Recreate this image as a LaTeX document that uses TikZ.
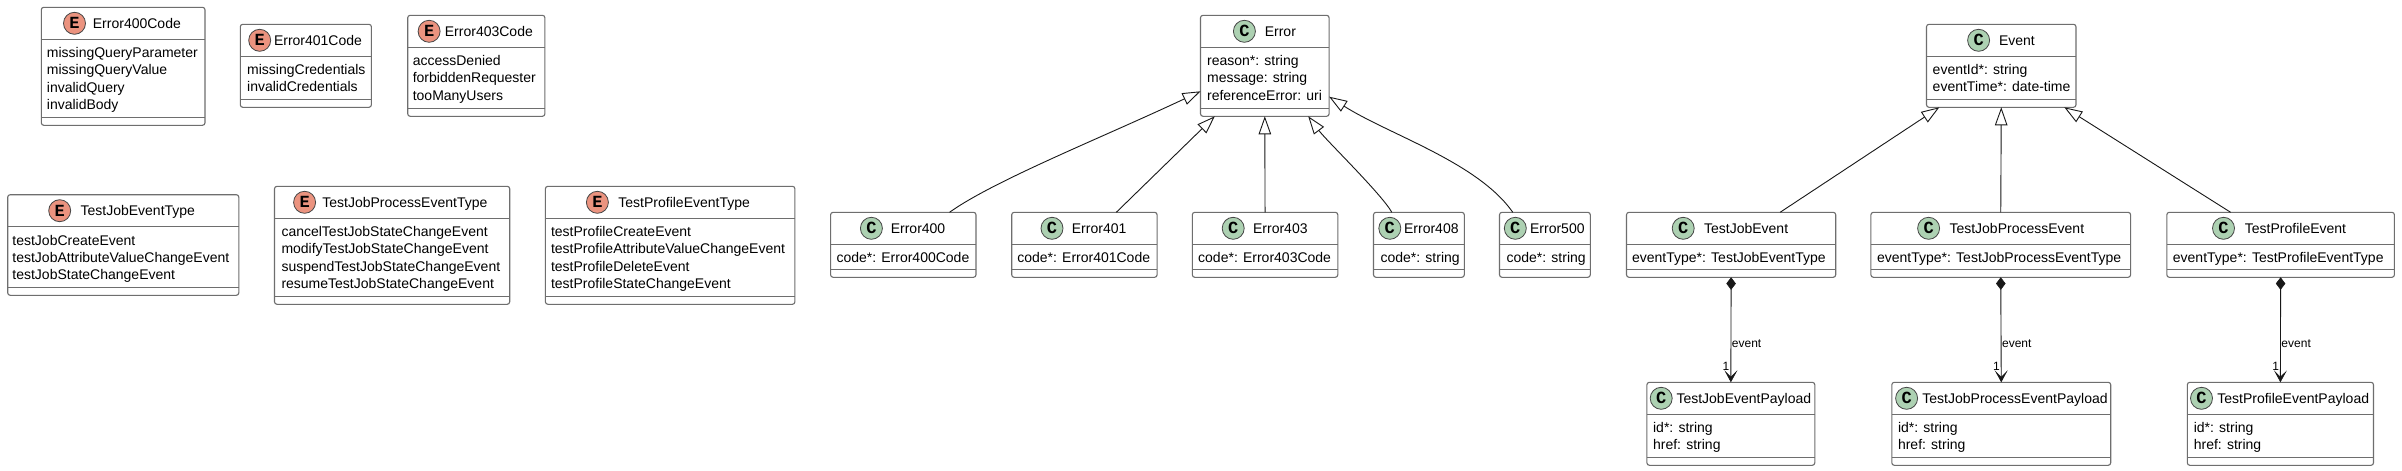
\documentclass[tikz,border=0pt]{standalone}
\usepackage{fontspec}
\setmainfont{Liberation Sans}
\newfontfamily\spotfont{Liberation Mono}
\usetikzlibrary{arrows.meta}
\definecolor{boxline}{HTML}{6E6E6E}
\definecolor{edgeline}{HTML}{181818}
\definecolor{spotC}{HTML}{ADD1B2}
\definecolor{spotE}{HTML}{EB937F}
\tikzset{
  x=1pt,y=-1pt,
  classbox/.style={draw=boxline,fill=white,line width=1.1pt,rounded corners=2.5pt,inner sep=0pt,outer sep=0pt},
  sepline/.style={draw=boxline,line width=1.1pt},
  txt/.style={inner sep=0pt,outer sep=0pt,anchor=base west,font=\fontsize{14}{17}\selectfont,text=black},
  spot/.style={circle,draw=edgeline!80,line width=0.8pt,minimum size=22pt,inner sep=0pt,font=\spotfont\bfseries\fontsize{17}{17}\selectfont},
  edge/.style={draw=edgeline,line width=0.9pt},
  inherit/.style={edge,-{Triangle[open,length=18pt,width=12.5pt,line width=0.9pt]}},
  compose/.style={edge,{Diamond[fill=edgeline,length=12.5pt,width=9.5pt,line width=0.5pt]}-{Stealth[length=12pt,width=13pt,inset=6.5pt,line width=0.6pt]}},
  edgelab/.style={inner sep=0pt,outer sep=0pt,font=\fontsize{12}{14}\selectfont,text=black},
}
% id, x1, y1, x2, y2, spot colour, letter, spot x, title x, title, body x, rows
\newcommand{\classbox}[9]{%
  \def\cbid{#1}\def\cbxa{#2}\def\cbya{#3}\def\cbxb{#4}\def\cbyb{#5}\def\cbcol{#6}\def\cblet{#7}\def\cbsx{#8}\def\cbtx{#9}%
  \classboxrest}
\newcommand{\classboxrest}[3]{%
  \pgfmathsetmacro{\cbw}{\cbxb-\cbxa}\pgfmathsetmacro{\cbh}{\cbyb-\cbya}%
  \pgfmathsetmacro{\cbsa}{\cbya+32}\pgfmathsetmacro{\cbsb}{\cbyb-8}%
  \node[classbox,anchor=north west,minimum width=\cbw pt,minimum height=\cbh pt] (\cbid) at (\cbxa,\cbya) {};
  \draw[sepline] (\cbxa,\cbsa) -- (\cbxb,\cbsa);
  \draw[sepline] (\cbxa,\cbsb) -- (\cbxb,\cbsb);
  \pgfmathsetmacro{\cbcy}{\cbya+16}\pgfmathsetmacro{\cbty}{\cbya+21.2}%
  \node[spot,fill=\cbcol] (\cbid-spot) at (\cbsx,\cbcy) {\cblet};
  \node[txt] (\cbid-title) at (\cbtx,\cbty) {#1};
  \foreach \r [count=\i] in {#3} {
    \pgfmathsetmacro{\cbry}{\cbsa+18.3+(\i-1)*17.33}
    \node[txt] (\cbid-row\i) at (#2,\cbry) {\r};
  }
}
\begin{document}
\begin{tikzpicture}
\useasboundingbox (0,0) rectangle (2402,471);
\fill[white] (0,0) rectangle (2402,471);
% enums
\classbox{e400}{41.3}{7.3}{205}{125.3}{spotE}{E}{74.5}{92.9}{Error400Code}{46.9}{missingQueryParameter,missingQueryValue,invalidQuery,invalidBody}
\classbox{e401}{240.3}{24.3}{371.4}{107.3}{spotE}{E}{259.7}{274}{Error401Code}{247.2}{missingCredentials,invalidCredentials}
\classbox{e403}{407.7}{15.3}{544.9}{116.3}{spotE}{E}{429.1}{444.9}{Error403Code}{412.8}{accessDenied,forbiddenRequester,tooManyUsers}
\classbox{tjet}{7.7}{194.7}{238.8}{295.3}{spotE}{E}{59.7}{80.6}{TestJobEventType}{12.4}{testJobCreateEvent,testJobAttributeValueChangeEvent,testJobStateChangeEvent}
\classbox{tjpet}{274.5}{186.3}{509.7}{304.3}{spotE}{E}{304.6}{322.4}{TestJobProcessEventType}{281.5}{cancelTestJobStateChangeEvent,modifyTestJobStateChangeEvent,suspendTestJobStateChangeEvent,resumeTestJobStateChangeEvent}
\classbox{tpet}{545.4}{186.3}{794.9}{304.3}{spotE}{E}{597.4}{618.4}{TestProfileEventType}{551}{testProfileCreateEvent,testProfileAttributeValueChangeEvent,testProfileDeleteEvent,testProfileStateChangeEvent}
% errors
\classbox{err}{1200.5}{15.3}{1329.1}{116.3}{spotC}{C}{1244.4}{1264.8}{Error}{1207.1}{reason*: string,message: string,referenceError: uri}
\classbox{err400}{830.6}{212.3}{976}{277.3}{spotC}{C}{871.4}{890.8}{Error400}{836.5}{code*: Error400Code}
\classbox{err401}{1011.7}{212.3}{1157.1}{277.3}{spotC}{C}{1052}{1071.9}{Error401}{1017.3}{code*: Error401Code}
\classbox{err403}{1192.3}{212.3}{1337.8}{277.3}{spotC}{C}{1233.2}{1253.1}{Error403}{1198.2}{code*: Error403Code}
\classbox{err408}{1373.5}{212.3}{1464.3}{277.3}{spotC}{C}{1389.8}{1404.1}{Error408}{1380.6}{code*: string}
\classbox{err500}{1499.5}{212.3}{1590.3}{277.3}{spotC}{C}{1515.3}{1530.1}{Error500}{1506.6}{code*: string}
% events
\classbox{ev}{1926.5}{24.3}{2076}{107.3}{spotC}{C}{1978.6}{1999}{Event}{1932.7}{eventId*: string,eventTime*: date-time}
\classbox{tje}{1626.5}{212.3}{1835.7}{277.3}{spotC}{C}{1683.2}{1704.1}{TestJobEvent}{1632.1}{eventType*: TestJobEventType}
\classbox{tjpe}{1870.9}{212.3}{2130.6}{277.3}{spotC}{C}{1928.6}{1949.5}{TestJobProcessEvent}{1877.1}{eventType*: TestJobProcessEventType}
\classbox{tpe}{2166.8}{212.3}{2394.4}{277.3}{spotC}{C}{2223.5}{2244.9}{TestProfileEvent}{2172.9}{eventType*: TestProfileEventType}
\classbox{tjp}{1646.9}{382.3}{1814.8}{465.3}{spotC}{C}{1661.2}{1676.5}{TestJobEventPayload}{1653.1}{id*: string,href: string}
\classbox{tjpp}{1891.8}{382.3}{2110.7}{465.3}{spotC}{C}{1906.6}{1922.4}{TestJobProcessEventPayload}{1898}{id*: string,href: string}
\classbox{tpp}{2187.3}{382.3}{2373.5}{465.3}{spotC}{C}{2201.5}{2217.3}{TestProfileEventPayload}{2193.8}{id*: string,href: string}
% inheritance
\draw[inherit] ([xshift=-26.5pt]err400.north east) .. controls +(45,-32) and +(-100,47) .. ([yshift=25pt]err.south west);
\draw[inherit] ([xshift=31.9pt]err401.north) -- ([xshift=14.3pt]err.south west);
\draw[inherit] (err403.north) -- (err.south);
\draw[inherit] ([xshift=-72.5pt]err408.north east) .. controls +(-10,-18) and +(18,24) .. ([xshift=-20.9pt]err.south east);
\draw[inherit] ([xshift=-77.5pt]err500.north east) .. controls +(-35,-50) and +(60,38) .. ([yshift=19.6pt]err.south east);
\draw[inherit] ([xshift=-55.6pt]tje.north east) -- ([xshift=12.8pt]ev.south west);
\draw[inherit] (tjpe.north) -- (ev.south);
\draw[inherit] ([xshift=63.8pt]tpe.north west) -- ([xshift=-11.7pt]ev.south east);
% composition
\foreach \a/\b/\c in {tje/tjp/a,tjpe/tjpp/b,tpe/tpp/c}{
  \draw[compose] (\a.south) -- (\b.north)
    node[edgelab,pos=0.633,anchor=west,xshift=1pt] (lab-\c) {event}
    node[edgelab,pos=0.853,anchor=east,xshift=-1.5pt] (one-\c) {1};
}
\end{tikzpicture}
\end{document}
